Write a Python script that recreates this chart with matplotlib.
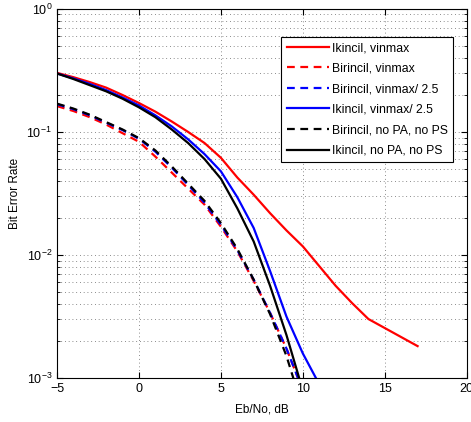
import numpy as np
import matplotlib
matplotlib.use("Agg")
import matplotlib.pyplot as plt

plt.rcParams['font.family'] = ['Liberation Sans', 'DejaVu Sans']

# Eb/No grid (dB) and log10(BER)
ebno = [-5, -4, -3, -2, -1, 0, 1, 2, 3, 4, 5, 6, 7, 8, 9, 10, 11]
ebno_red = [-5, -4, -3, -2, -1, 0, 1, 2, 3, 4, 5, 6, 7, 8, 9, 10, 11, 12, 13, 14, 17]

ikincil_vinmax = [-0.52, -0.555, -0.595, -0.64, -0.70, -0.765, -0.835, -0.915, -1.00, -1.09,
                  -1.21, -1.37, -1.51, -1.66, -1.80, -1.93, -2.09, -2.25, -2.39, -2.52, -2.74]
birincil_vinmax = [-0.79, -0.83, -0.88, -0.94, -1.01, -1.08, -1.20, -1.33, -1.46, -1.59,
                   -1.77, -1.97, -2.21, -2.47, -2.76, -3.10, -3.5]
birincil_vinmax25 = [-0.775, -0.815, -0.865, -0.925, -0.985, -1.055, -1.16, -1.29, -1.43, -1.575,
                     -1.755, -1.96, -2.20, -2.47, -2.76, -3.10, -3.5]
ikincil_vinmax25 = [-0.525, -0.565, -0.61, -0.66, -0.72, -0.785, -0.865, -0.955, -1.06, -1.18,
                    -1.32, -1.53, -1.78, -2.13, -2.50, -2.80, -3.05]
birincil_nopa = [-0.77, -0.81, -0.86, -0.92, -0.98, -1.05, -1.15, -1.28, -1.42, -1.56,
                 -1.74, -1.95, -2.20, -2.48, -2.82, -3.25, -3.7]
ikincil_nopa = [-0.525, -0.57, -0.62, -0.67, -0.73, -0.80, -0.88, -0.98, -1.09, -1.22,
                -1.38, -1.62, -1.89, -2.25, -2.65, -3.10, -3.6]

labels = ['Ikincil, vinmax', 'Birincil, vinmax', 'Birincil, vinmax/ 2.5',
          'Ikincil, vinmax/ 2.5', 'Birincil, no PA, no PS', 'Ikincil, no PA, no PS']

fig = plt.figure(figsize=(4.71, 4.22), dpi=100)
ax = fig.add_axes([0.121, 0.104, 0.870, 0.875])

dash = (3.5, 2.5)
lw = 1.6
ax.semilogy(ebno_red, 10 ** np.array(ikincil_vinmax), color='red', lw=lw, label=labels[0])
ax.semilogy(ebno, 10 ** np.array(birincil_vinmax), color='red', lw=lw, dashes=dash, label=labels[1])
ax.semilogy(ebno, 10 ** np.array(birincil_vinmax25), color='blue', lw=lw, dashes=dash, label=labels[2])
ax.semilogy(ebno, 10 ** np.array(ikincil_vinmax25), color='blue', lw=lw, label=labels[3])
ax.semilogy(ebno, 10 ** np.array(birincil_nopa), color='black', lw=lw, dashes=dash, label=labels[4])
ax.semilogy(ebno, 10 ** np.array(ikincil_nopa), color='black', lw=lw, label=labels[5])

ax.set_xlim(-5, 20)
ax.set_ylim(1e-3, 1)
ax.set_xticks([-5, 0, 5, 10, 15, 20])
ax.set_xticklabels(['\u22125', '0', '5', '10', '15', '20'])
grid_style = dict(linestyle=(0, (1, 3.5)), color='0.4', lw=0.6)
ax.grid(True, which='major', **grid_style)
ax.grid(True, which='minor', axis='y', **grid_style)
ax.tick_params(which='both', direction='in', top=True, right=True, labelsize=9)
ax.tick_params(which='major', length=4)
ax.tick_params(which='minor', length=2)
for s in ax.spines.values():
    s.set_linewidth(0.8)

ax.set_xlabel('Eb/No, dB', fontsize=8.5, labelpad=6)
ax.set_ylabel('Bit Error Rate', fontsize=8.5, labelpad=4)

leg = ax.legend(loc='upper right', bbox_to_anchor=(0.967, 0.925), fontsize=8.8,
                fancybox=False, framealpha=1, edgecolor='black', handlelength=3.5,
                handletextpad=0.2, borderpad=0.45, labelspacing=0.7, borderaxespad=0)
leg.get_frame().set_linewidth(0.8)

fig.savefig('out.png', dpi=100)
